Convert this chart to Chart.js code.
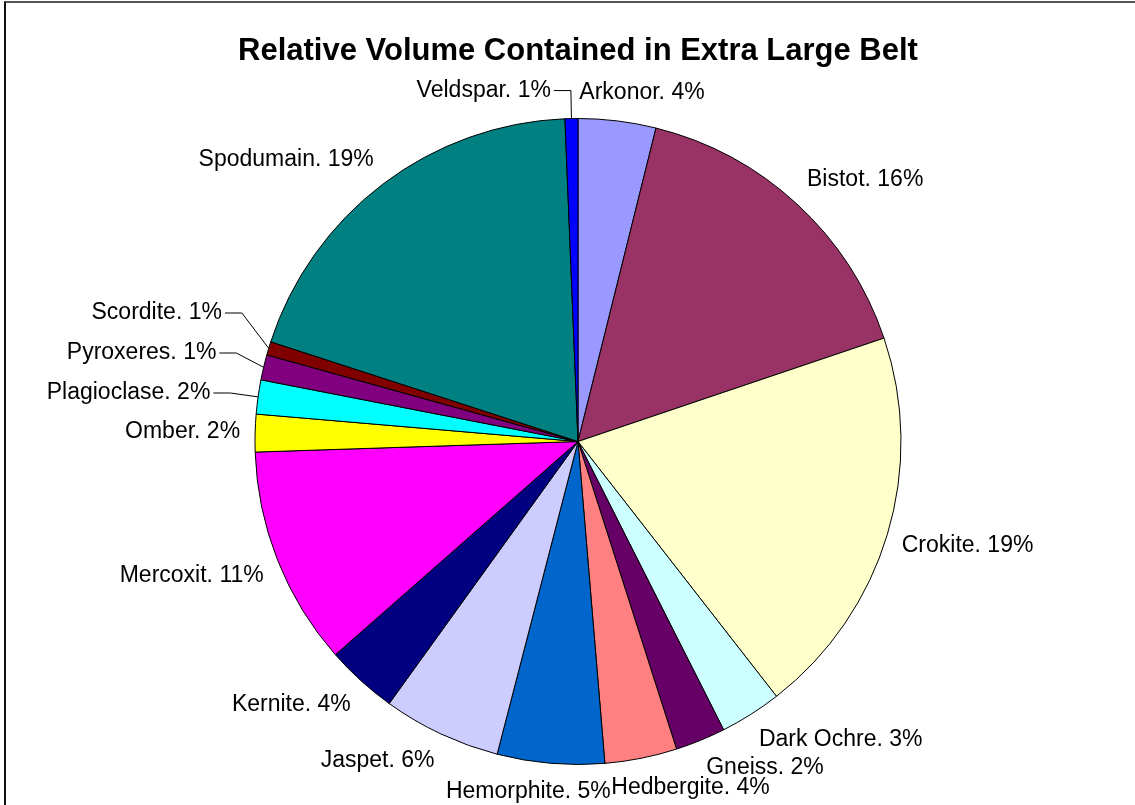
<!DOCTYPE html>
<html>
<head>
<meta charset="utf-8">
<title>Relative Volume Contained in Extra Large Belt</title>
<script src="https://cdn.jsdelivr.net/npm/chart.js@4"></script>
<style>
  html, body { margin: 0; padding: 0; background: #fff; overflow: hidden; }
  #wrap { position: relative; width: 1135px; height: 805px; }
  #frame {
    position: absolute; left: 4px; top: 1px; width: 1200px; height: 900px;
    border-left: 2px solid #111; border-top: 2px solid #555; pointer-events: none;
  }
</style>
</head>
<body>
<div id="wrap">
  <canvas id="pie"></canvas>
  <div id="frame"></div>
</div>
<script>
// ore types in the belt, in the order the slices run (clockwise from 12 o'clock)
const ores = ['Arkonor', 'Bistot', 'Crokite', 'Dark Ochre', 'Gneiss', 'Hedbergite',
  'Hemorphite', 'Jaspet', 'Kernite', 'Mercoxit', 'Omber', 'Plagioclase',
  'Pyroxeres', 'Scordite', 'Spodumain', 'Veldspar'];

// relative volume, percent
const volumes = [3.85, 15.8, 19.49, 3.06, 2.49, 3.58, 5.31, 5.86, 3.56, 10.86,
  1.86, 1.69, 1.25, 0.67, 19.2, 0.64];

const sliceColors = ['#9999FF', '#993366', '#FFFFCC', '#CCFFFF', '#660066', '#FF8080',
  '#0066CC', '#CCCCFF', '#000080', '#FF00FF', '#FFFF00', '#00FFFF',
  '#800080', '#800000', '#008080', '#0000FF'];

const FONT = '"Liberation Sans", Arial, sans-serif';
const LABEL_PX = 23;
const BOX_H = 26;           // line box used to place a label
const LABEL_GAP = 15;       // distance of label from the rim
const ELBOW_GAP = 28;       // leader line elbow distance from the rim
const TAIL = 17;            // horizontal part of a leader line
const LEADER_ANGLE = 6.4 * Math.PI / 180; // thinner slices get a leader line

const clamp1 = v => Math.max(-1, Math.min(1, v));

// outside labels "Name. N%" with leader lines for the thin slices
const sliceLabels = {
  id: 'sliceLabels',
  afterDatasetsDraw(chart) {
    const ctx = chart.ctx;
    const meta = chart.getDatasetMeta(0);
    const values = chart.data.datasets[0].data;
    ctx.save();
    ctx.font = LABEL_PX + 'px ' + FONT;

    const items = meta.data.map((arc, i) => {
      const p = arc.getProps(['x', 'y', 'outerRadius', 'startAngle', 'endAngle'], true);
      const mid = (p.startAngle + p.endAngle) / 2;
      const dx = Math.cos(mid), dy = Math.sin(mid);
      const text = chart.data.labels[i] + '. ' + Math.round(values[i]) + '%';
      const w = ctx.measureText(text).width;
      const it = {
        text, w, dx, dy,
        leader: (p.endAngle - p.startAngle) < LEADER_ANGLE,
        edgeX: p.x + p.outerRadius * dx,
        edgeY: p.y + p.outerRadius * dy
      };
      if (it.leader) {
        it.ex = p.x + (p.outerRadius + ELBOW_GAP) * dx;
        it.cy = p.y + (p.outerRadius + ELBOW_GAP) * dy;
        it.h = 40;
      } else {
        const px = p.x + (p.outerRadius + LABEL_GAP) * dx;
        const py = p.y + (p.outerRadius + LABEL_GAP) * dy;
        it.left = px - w * (1 - clamp1(dx * 3)) / 2;
        it.cy = py + BOX_H * clamp1(dy * 2) / 2;
        it.h = 20;
      }
      return it;
    });

    // keep labels on each side from sitting on top of each other
    const leftSide = items.filter(it => it.dx < 0).sort((a, b) => b.cy - a.cy);
    for (let k = 1; k < leftSide.length; k++) {
      const prev = leftSide[k - 1], cur = leftSide[k];
      const need = (prev.h + cur.h) / 2;
      if (prev.cy - cur.cy < need) cur.cy = prev.cy - need;
    }
    const rightSide = items.filter(it => it.dx >= 0).sort((a, b) => a.cy - b.cy);
    for (let k = 1; k < rightSide.length; k++) {
      const prev = rightSide[k - 1], cur = rightSide[k];
      const need = (prev.h + cur.h) / 2;
      if (cur.cy - prev.cy < need) cur.cy = prev.cy + need;
    }

    ctx.fillStyle = '#000';
    ctx.strokeStyle = '#000';
    ctx.lineWidth = 1;
    ctx.textBaseline = 'middle';
    ctx.textAlign = 'left';
    items.forEach(it => {
      if (it.leader) {
        const side = it.dx < 0 ? -1 : 1;
        const tailX = it.ex + side * TAIL;
        ctx.beginPath();
        ctx.moveTo(it.edgeX, it.edgeY);
        ctx.lineTo(it.ex, it.cy);
        ctx.lineTo(tailX, it.cy);
        ctx.stroke();
        it.left = side < 0 ? tailX - 3 - it.w : tailX + 3;
      }
      ctx.fillText(it.text, it.left, it.cy);
    });
    ctx.restore();
  }
};

new Chart(document.getElementById('pie'), {
  type: 'pie',
  data: {
    labels: ores,
    datasets: [{
      data: volumes,
      backgroundColor: sliceColors,
      borderColor: '#000',
      borderWidth: 1
    }]
  },
  options: {
    responsive: true,
    maintainAspectRatio: false,
    animation: false,
    radius: 323,
    layout: { padding: { top: 0, left: 221, right: 200, bottom: 40.5 } },
    plugins: {
      legend: { display: false },
      tooltip: { enabled: false },
      title: {
        display: true,
        text: 'Relative Volume Contained in Extra Large Belt',
        color: '#000',
        font: { family: FONT, size: 31, weight: 'bold', lineHeight: 1.2 },
        padding: { top: 32.4, bottom: 48.9 }
      }
    }
  },
  plugins: [sliceLabels]
});
</script>
</body>
</html>
